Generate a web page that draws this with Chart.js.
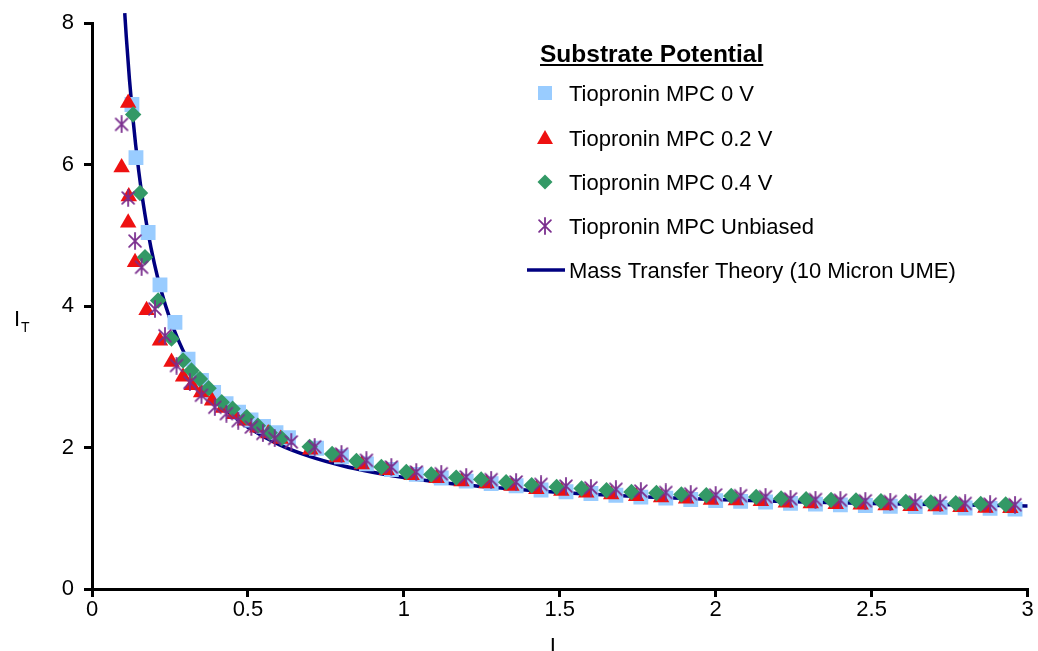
<!DOCTYPE html>
<html>
<head>
<meta charset="utf-8">
<style>
  html, body { margin: 0; padding: 0; background: #fff; overflow: hidden; }
  canvas { display: block; }
</style>
<script src="https://cdn.jsdelivr.net/npm/chart.js@4/dist/chart.umd.min.js"></script>
</head>
<body>
<canvas id="c" width="1038" height="651"></canvas>
<script>
// Normalized tip-substrate distance L and normalized tip current I_T
const L_0V = [0.128, 0.141, 0.180, 0.218, 0.266, 0.308, 0.351,
  0.39, 0.43, 0.47, 0.51, 0.55, 0.59, 0.63,
  0.72, 0.80, 0.88, 0.96, 1.04, 1.12, 1.20, 1.28, 1.36,
  1.44, 1.52, 1.60, 1.68, 1.76, 1.84, 1.92, 2.00, 2.08, 2.16,
  2.24, 2.32, 2.40, 2.48, 2.56, 2.64, 2.72, 2.80, 2.88, 2.96];
const IT_0V = [6.85, 6.10, 5.04, 4.30, 3.77, 3.25, 2.95,
  2.78, 2.62, 2.50, 2.39, 2.30, 2.21, 2.14,
  1.99, 1.87, 1.77, 1.69, 1.62, 1.57, 1.525, 1.49, 1.46,
  1.40, 1.375, 1.35, 1.325, 1.30, 1.285, 1.265, 1.25, 1.24, 1.23,
  1.21, 1.20, 1.19, 1.18, 1.17, 1.165, 1.155, 1.145, 1.14, 1.13];

const L_02V = [0.116, 0.095, 0.118, 0.116, 0.138,
  0.175, 0.218, 0.255, 0.292, 0.320, 0.350, 0.385, 0.420, 0.455, 0.490, 0.530, 0.565, 0.605,
  0.700, 0.785, 0.865, 0.945, 1.025, 1.105, 1.185, 1.265, 1.345,
  1.425, 1.505, 1.585, 1.665, 1.745, 1.825, 1.905, 1.985, 2.065, 2.145,
  2.225, 2.305, 2.385, 2.465, 2.545, 2.625, 2.705, 2.785, 2.865, 2.945];
const IT_02V = [6.87, 5.96, 5.55, 5.18, 4.62,
  3.94, 3.51, 3.21, 3.00, 2.88, 2.78, 2.66, 2.56, 2.47, 2.38, 2.28, 2.20, 2.12,
  1.97, 1.86, 1.76, 1.68, 1.61, 1.565, 1.52, 1.49, 1.455,
  1.41, 1.385, 1.36, 1.335, 1.31, 1.295, 1.275, 1.26, 1.25, 1.24,
  1.22, 1.21, 1.20, 1.19, 1.18, 1.17, 1.165, 1.155, 1.145, 1.14];

const L_04V = [0.132, 0.154, 0.170, 0.212, 0.255, 0.292, 0.319, 0.346, 0.374,
  0.416, 0.451, 0.496, 0.532, 0.570, 0.608,
  0.698, 0.770, 0.848, 0.928, 1.008, 1.088, 1.168, 1.248, 1.328,
  1.41, 1.49, 1.57, 1.65, 1.73, 1.81, 1.89, 1.97, 2.05, 2.13,
  2.21, 2.29, 2.37, 2.45, 2.53, 2.61, 2.69, 2.77, 2.85, 2.93];
const IT_04V = [6.71, 5.60, 4.69, 4.08, 3.54, 3.23, 3.09, 2.97, 2.84,
  2.64, 2.55, 2.43, 2.31, 2.21, 2.13,
  2.01, 1.91, 1.81, 1.725, 1.655, 1.62, 1.575, 1.55, 1.51,
  1.467, 1.443, 1.420, 1.396, 1.372, 1.358, 1.336, 1.326, 1.316, 1.302,
  1.279, 1.269, 1.260, 1.251, 1.241, 1.231, 1.223, 1.213, 1.203, 1.195];

const L_unb = [0.095, 0.116, 0.138, 0.159, 0.202, 0.234, 0.271, 0.314,
  0.351, 0.394, 0.431, 0.469, 0.511, 0.548, 0.586, 0.639, 0.714,
  0.80, 0.88, 0.96, 1.04, 1.12, 1.20, 1.28, 1.36,
  1.44, 1.52, 1.60, 1.68, 1.76, 1.84, 1.92, 2.00, 2.08, 2.16,
  2.24, 2.32, 2.40, 2.48, 2.56, 2.64, 2.72, 2.80, 2.88, 2.96];
const IT_unb = [6.57, 5.53, 4.92, 4.55, 3.96, 3.58, 3.16, 2.92,
  2.74, 2.57, 2.48, 2.38, 2.29, 2.20, 2.13, 2.08, 2.01,
  1.91, 1.82, 1.725, 1.655, 1.63, 1.585, 1.547, 1.513,
  1.48, 1.455, 1.43, 1.41, 1.385, 1.365, 1.345, 1.33, 1.32, 1.305,
  1.275, 1.265, 1.256, 1.247, 1.237, 1.228, 1.22, 1.21, 1.20, 1.192];

// Positive-feedback mass transfer curve for a 10 µm UME
const L_theory = [0.105, 0.11, 0.12, 0.13, 0.14, 0.15, 0.16, 0.18, 0.20, 0.22, 0.25, 0.28, 0.30,
  0.35, 0.40, 0.45, 0.50, 0.60, 0.70, 0.80, 0.90, 1.00, 1.20, 1.40, 1.60, 1.80, 2.00,
  2.25, 2.50, 2.75, 3.00, 3.02];
const IT_theory = [8.144, 7.805, 7.211, 6.709, 6.279, 5.905, 5.579, 5.035, 4.600, 4.245, 3.820, 3.487, 3.302,
  2.935, 2.662, 2.453, 2.287, 2.042, 1.872, 1.747, 1.652, 1.578, 1.469, 1.395, 1.340, 1.299, 1.266,
  1.235, 1.210, 1.190, 1.174, 1.172];

const seriesNames = ['Tiopronin MPC 0 V', 'Tiopronin MPC 0.2 V', 'Tiopronin MPC 0.4 V',
  'Tiopronin MPC Unbiased', 'Mass Transfer Theory (10 Micron UME)'];
const legendTitle = 'Substrate Potential';
const xTickLabels = ['0', '0.5', '1', '1.5', '2', '2.5', '3'];
const yTickLabels = ['0', '2', '4', '6', '8'];
const xTitle = 'L';
const yTitleMain = 'I';
const yTitleSub = 'T';

const FONT = '"Liberation Sans", Arial, Helvetica, sans-serif';
const C_SQ = '#99ccff', C_TRI = '#ee1111', C_DIA = '#339966', C_AST = '#7a2e8e', C_LINE = '#000080';

function toPoints(xs, ys) { return xs.map((x, i) => ({ x: x, y: ys[i] })); }

// Six-armed asterisk marker (X plus vertical stroke)
function makeAsterisk(size, color, lw) {
  const c = document.createElement('canvas');
  c.width = size; c.height = size;
  const g = c.getContext('2d');
  const m = size / 2, r = size / 2 - 1, d = r * 0.74;
  g.strokeStyle = color; g.lineWidth = lw; g.lineCap = 'round';
  g.beginPath();
  g.moveTo(m, m - r); g.lineTo(m, m + r);
  g.moveTo(m - d, m - d); g.lineTo(m + d, m + d);
  g.moveTo(m + d, m - d); g.lineTo(m - d, m + d);
  g.stroke();
  return c;
}
const asteriskImg = makeAsterisk(18, C_AST, 1.8);

// Inset legend plus axis titles (subscripted I_T)
const decorations = {
  id: 'decorations',
  afterDraw(chart) {
    const ctx = chart.ctx;
    ctx.save();
    ctx.fillStyle = '#000';
    ctx.textBaseline = 'alphabetic';
    ctx.textAlign = 'left';

    // legend title, underlined
    ctx.font = 'bold 24.5px ' + FONT;
    ctx.fillText(legendTitle, 540, 62);
    const tw = ctx.measureText(legendTitle).width;
    ctx.fillRect(540, 64, tw, 2);

    const rowY = [93, 138, 182, 226, 270];
    const mx = 545, tx = 569;
    ctx.font = '22px ' + FONT;
    // square
    ctx.fillStyle = C_SQ;
    ctx.fillRect(mx - 7, rowY[0] - 7, 14, 14);
    // triangle
    ctx.fillStyle = C_TRI;
    ctx.beginPath();
    ctx.moveTo(mx, rowY[1] - 8);
    ctx.lineTo(mx + 8, rowY[1] + 6);
    ctx.lineTo(mx - 8, rowY[1] + 6);
    ctx.closePath(); ctx.fill();
    // diamond
    ctx.fillStyle = C_DIA;
    ctx.beginPath();
    ctx.moveTo(mx, rowY[2] - 7.5);
    ctx.lineTo(mx + 7.5, rowY[2]);
    ctx.lineTo(mx, rowY[2] + 7.5);
    ctx.lineTo(mx - 7.5, rowY[2]);
    ctx.closePath(); ctx.fill();
    // asterisk
    ctx.drawImage(asteriskImg, mx - asteriskImg.width / 2, rowY[3] - asteriskImg.height / 2);
    // line
    ctx.strokeStyle = C_LINE; ctx.lineWidth = 3.5;
    ctx.beginPath(); ctx.moveTo(527, rowY[4]); ctx.lineTo(565, rowY[4]); ctx.stroke();

    ctx.fillStyle = '#000';
    for (let i = 0; i < seriesNames.length; i++) {
      ctx.fillText(seriesNames[i], tx, rowY[i] + 8);
    }

    // axis titles
    ctx.font = '22px ' + FONT;
    ctx.fillText(yTitleMain, 14, 326);
    ctx.font = '14px ' + FONT;
    ctx.fillText(yTitleSub, 21, 332);
    ctx.font = '22px ' + FONT;
    ctx.textAlign = 'center';
    ctx.fillText(xTitle, 556, 653);
    ctx.restore();
  }
};

const axisCommon = {
  type: 'linear',
  border: { display: true, color: '#000', width: 3 },
  grid: { display: true, drawOnChartArea: false, drawTicks: true, tickLength: 8, color: '#000', lineWidth: 3 }
};

new Chart(document.getElementById('c'), {
  type: 'scatter',
  data: {
    datasets: [
      {
        label: seriesNames[4], data: toPoints(L_theory, IT_theory), showLine: true,
        borderColor: C_LINE, borderWidth: 3.5, pointRadius: 0, pointHoverRadius: 0,
        cubicInterpolationMode: 'monotone', fill: false, order: 5,
        clip: { left: 5, top: 14, right: 10, bottom: 5 }
      },
      {
        label: seriesNames[0], data: toPoints(L_0V, IT_0V), pointStyle: 'rect',
        pointRadius: 10.5, backgroundColor: C_SQ, borderColor: C_SQ, borderWidth: 0, order: 4
      },
      {
        label: seriesNames[1], data: toPoints(L_02V, IT_02V), pointStyle: 'triangle',
        pointRadius: 9.5, backgroundColor: C_TRI, borderColor: C_TRI, borderWidth: 0, order: 3
      },
      {
        label: seriesNames[2], data: toPoints(L_04V, IT_04V), pointStyle: 'rectRot',
        pointRadius: 8.2, backgroundColor: C_DIA, borderColor: C_DIA, borderWidth: 0, order: 2
      },
      {
        label: seriesNames[3], data: toPoints(L_unb, IT_unb), pointStyle: asteriskImg,
        pointRadius: 9, backgroundColor: C_AST, borderColor: C_AST, order: 1
      }
    ]
  },
  options: {
    responsive: false,
    animation: false,
    events: [],
    layout: { padding: { left: 0, right: 9, top: 22, bottom: 0 } },
    plugins: { legend: { display: false }, tooltip: { enabled: false } },
    scales: {
      x: Object.assign({}, axisCommon, {
        min: 0, max: 3,
        ticks: {
          stepSize: 0.5, color: '#000', padding: 0, maxRotation: 0,
          font: { family: FONT, size: 22 },
          callback: (v, i) => xTickLabels[i]
        },
        afterFit(s) { s.height = 62; }
      }),
      y: Object.assign({}, axisCommon, {
        min: 0, max: 8,
        ticks: {
          stepSize: 2, color: '#000', padding: 10,
          font: { family: FONT, size: 22 },
          callback: (v, i) => yTickLabels[i]
        },
        afterFit(s) { s.width = 92; }
      })
    }
  },
  plugins: [decorations]
});
</script>
</body>
</html>
